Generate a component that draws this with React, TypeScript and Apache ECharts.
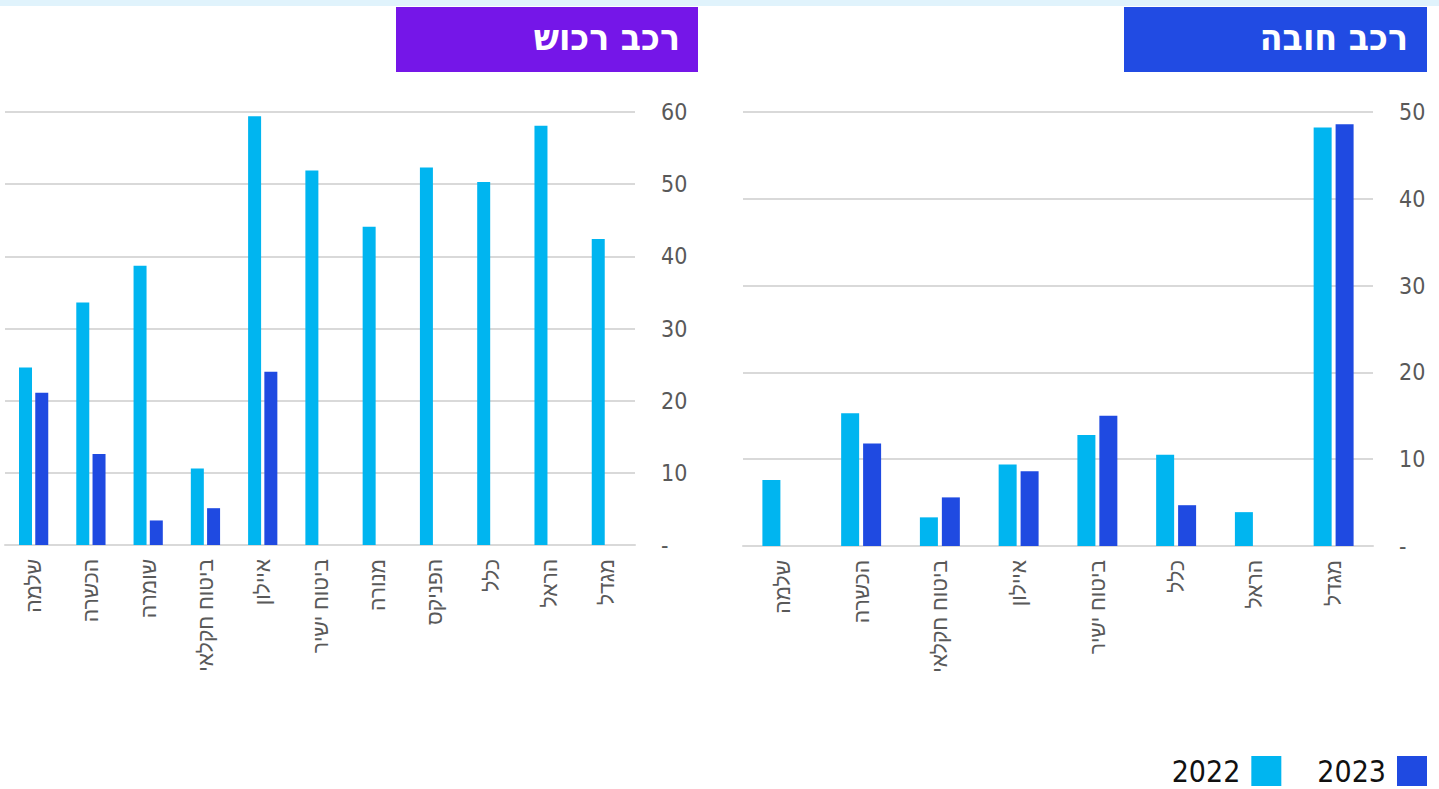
import React, { useEffect, useRef } from "react";
import * as echarts from "echarts";

const propertyCategories = ["שלמה", "הכשרה", "שומרה", "ביטוח חקלאי", "איילון", "ביטוח ישיר", "מנורה", "הפניקס", "כלל", "הראל", "מגדל"];
const property2022 = [24.6, 33.6, 38.7, 10.6, 59.4, 51.9, 44.1, 52.3, 50.3, 58.1, 42.4];
const property2023 = [21.1, 12.6, 3.4, 5.1, 24.0, null, null, null, null, null, null];

const mandatoryCategories = ["שלמה", "הכשרה", "ביטוח חקלאי", "איילון", "ביטוח ישיר", "כלל", "הראל", "מגדל"];
const mandatory2022 = [7.6, 15.3, 3.3, 9.4, 12.8, 10.5, 3.9, 48.2];
const mandatory2023 = [null, 11.8, 5.6, 8.6, 15.0, 4.7, null, 48.6];

const propertyTicks = { min: 0, max: 60, interval: 10 };
const mandatoryTicks = { min: 0, max: 50, interval: 10 };

const C2022 = "#00B5F0";
const C2023 = "#1F4AE1";
const GRID_COLOR = "#D9D9D9";
const LABEL_COLOR = "#595959";

export default function App() {
  const ref = useRef<HTMLDivElement>(null);
  useEffect(() => {
    if (!ref.current) return;
    const chart = echarts.init(ref.current, null, { renderer: "svg" });
    const yAxisCommon = (t: any, gridIndex: number) => ({
      type: "value",
      gridIndex,
      position: "right",
      min: t.min,
      max: t.max,
      interval: t.interval,
      axisLine: { show: false },
      axisTick: { show: false },
      splitLine: { lineStyle: { color: GRID_COLOR, width: 2 } },
      axisLabel: {
        color: LABEL_COLOR,
        fontFamily: "'DejaVu Sans Condensed', sans-serif",
        fontSize: 23,
        margin: 26,
        formatter: (v: number) => (v === 0 ? "-" : String(v)),
      },
    });
    const xAxisCommon = (cats: string[], gridIndex: number) => ({
      type: "category",
      gridIndex,
      data: cats,
      axisLine: { lineStyle: { color: GRID_COLOR, width: 2 } },
      axisTick: { show: false },
      axisLabel: {
        rotate: 90,
        color: LABEL_COLOR,
        fontFamily: "'Liberation Sans', Arial, sans-serif",
        fontSize: 21,
        margin: 14,
        interval: 0,
      },
    });
    chart.setOption({
      animation: false,
      backgroundColor: "#ffffff",
      graphic: [
        { type: "rect", left: 0, top: 0, shape: { width: 1439, height: 6 }, style: { fill: "#E0F3FC" } },
        { type: "rect", left: 396, top: 7, shape: { width: 302, height: 65 }, style: { fill: "#7516E8" } },
        {
          type: "text",
          right: 1439 - 680,
          top: 19,
          style: { text: "רכב רכוש", fill: "#ffffff", font: "bold 37px 'DejaVu Sans Condensed', sans-serif" },
        },
        { type: "rect", left: 1124, top: 7, shape: { width: 303, height: 65 }, style: { fill: "#214BE3" } },
        {
          type: "text",
          right: 1439 - 1408,
          top: 19,
          style: { text: "רכב חובה", fill: "#ffffff", font: "bold 37px 'DejaVu Sans Condensed', sans-serif" },
        },
      ],
      legend: {
        right: 12,
        bottom: 3,
        padding: 0,
        align: "right",
        itemWidth: 30,
        itemHeight: 30,
        itemGap: 36,
        icon: "rect",
        data: ["2022", "2023"],
        textStyle: {
          color: "#111",
          fontSize: 30,
          fontFamily: "'DejaVu Sans Condensed', sans-serif",
          padding: [0, 6, 0, 0],
        },
      },
      grid: [
        { left: 5, top: 112, width: 630, height: 433 },
        { left: 743, top: 112, width: 630, height: 434 },
      ],
      xAxis: [xAxisCommon(propertyCategories, 0), xAxisCommon(mandatoryCategories, 1)],
      yAxis: [yAxisCommon(propertyTicks, 0), yAxisCommon(mandatoryTicks, 1)],
      series: [
        { name: "2022", type: "bar", xAxisIndex: 0, yAxisIndex: 0, data: property2022, barWidth: 13, barGap: "25%", itemStyle: { color: C2022 } },
        { name: "2023", type: "bar", xAxisIndex: 0, yAxisIndex: 0, data: property2023, barWidth: 13, barGap: "25%", itemStyle: { color: C2023 } },
        { name: "2022", type: "bar", xAxisIndex: 1, yAxisIndex: 1, data: mandatory2022, barWidth: 18, barGap: "22%", itemStyle: { color: C2022 } },
        { name: "2023", type: "bar", xAxisIndex: 1, yAxisIndex: 1, data: mandatory2023, barWidth: 18, barGap: "22%", itemStyle: { color: C2023 } },
      ],
    });
    return () => chart.dispose();
  }, []);
  return <div ref={ref} style={{ width: 1439, height: 789, position: "absolute", left: 0, top: 0 }} />;
}
